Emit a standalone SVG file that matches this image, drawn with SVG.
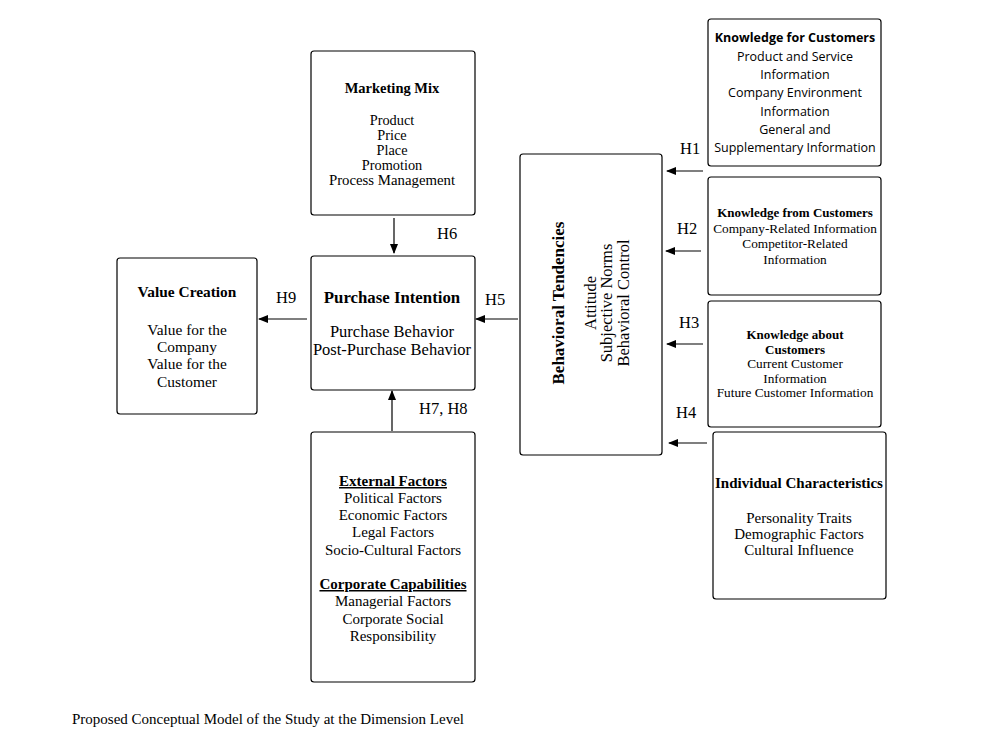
<svg xmlns="http://www.w3.org/2000/svg" width="981" height="751" viewBox="0 0 981 751">
<defs>
<marker id="ah" markerWidth="10" markerHeight="8" refX="9" refY="4" orient="auto" markerUnits="userSpaceOnUse">
<path d="M0,0 L10,4 L0,8 Z" fill="#000"/>
</marker>
<style>
.box{fill:#fff;stroke:#000;stroke-width:1.2}
.s{font-family:"Liberation Serif","Times New Roman",serif;fill:#000;text-anchor:middle}
.c{font-family:"Open Sans","Noto Sans",sans-serif;fill:#000;text-anchor:middle;font-size:12.5px}
.b{font-weight:bold}
.lbl{font-family:"Liberation Serif","Times New Roman",serif;font-size:16.5px;fill:#000}
.ln{stroke:#000;stroke-width:1.2;fill:none;marker-end:url(#ah)}
</style>
</defs>
<rect width="981" height="751" fill="#fff"/>

<g id="knowledge-for">
<rect class="box" x="708" y="19" width="173" height="147" rx="3"/>
<text class="c b" x="795" y="42">Knowledge for Customers</text>
<text class="c" x="795" y="61">Product and Service</text>
<text class="c" x="795" y="79">Information</text>
<text class="c" x="795" y="97">Company Environment</text>
<text class="c" x="795" y="116">Information</text>
<text class="c" x="795" y="134">General and</text>
<text class="c" x="795" y="152">Supplementary Information</text>
</g>

<g id="knowledge-from">
<rect class="box" x="708" y="177" width="173" height="118" rx="3"/>
<text class="s b" x="795" y="217" font-size="13">Knowledge from Customers</text>
<text class="s" x="795" y="233" font-size="13.3">Company-Related Information</text>
<text class="s" x="795" y="248" font-size="13.3">Competitor-Related</text>
<text class="s" x="795" y="264" font-size="13.3">Information</text>
</g>

<g id="knowledge-about">
<rect class="box" x="708" y="301" width="173" height="126" rx="3"/>
<text class="s b" x="795" y="339" font-size="13">Knowledge about</text>
<text class="s b" x="795" y="354" font-size="13">Customers</text>
<text class="s" x="795" y="368" font-size="13.3">Current Customer</text>
<text class="s" x="795" y="383" font-size="13.3">Information</text>
<text class="s" x="795" y="397" font-size="13.3">Future Customer Information</text>
</g>

<g id="individual">
<rect class="box" x="713" y="432" width="173" height="167" rx="3"/>
<text class="s b" x="799" y="488" font-size="15">Individual Characteristics</text>
<text class="s" x="799" y="523" font-size="15">Personality Traits</text>
<text class="s" x="799" y="539" font-size="15">Demographic Factors</text>
<text class="s" x="799" y="555" font-size="15">Cultural Influence</text>
</g>

<g id="behavioral">
<rect class="box" x="520" y="154" width="142" height="301" rx="3"/>
<g transform="translate(591,303) rotate(-90)">
<text class="s b" x="0" y="-27" font-size="17">Behavioral Tendencies</text>
<text class="s" x="0" y="5" font-size="16.5">Attitude</text>
<text class="s" x="0" y="21" font-size="16.5">Subjective Norms</text>
<text class="s" x="0" y="38" font-size="16.5">Behavioral Control</text>
</g>
</g>

<g id="marketing-mix">
<rect class="box" x="311" y="51" width="164" height="164" rx="3"/>
<text class="s b" x="392" y="93" font-size="14.5">Marketing Mix</text>
<text class="s" x="392" y="125" font-size="14.3">Product</text>
<text class="s" x="392" y="140" font-size="14.3">Price</text>
<text class="s" x="392" y="155" font-size="14.3">Place</text>
<text class="s" x="392" y="170" font-size="14.3">Promotion</text>
<text class="s" x="392" y="185" font-size="14.8">Process Management</text>
</g>

<g id="purchase-intention">
<rect class="box" x="311" y="256" width="164" height="134" rx="3"/>
<text class="s b" x="392" y="303" font-size="16.8">Purchase Intention</text>
<text class="s" x="392" y="337" font-size="16.5">Purchase Behavior</text>
<text class="s" x="392" y="355" font-size="16.5">Post-Purchase Behavior</text>
</g>

<g id="value-creation">
<rect class="box" x="117" y="258" width="140" height="156" rx="3"/>
<text class="s b" x="187" y="297" font-size="15.4">Value Creation</text>
<text class="s" x="187" y="335" font-size="15.4">Value for the</text>
<text class="s" x="187" y="352" font-size="15.4">Company</text>
<text class="s" x="187" y="369" font-size="15.4">Value for the</text>
<text class="s" x="187" y="387" font-size="15.4">Customer</text>
</g>

<g id="external-factors">
<rect class="box" x="311" y="432" width="164" height="250" rx="3"/>
<text class="s b" x="393" y="486" font-size="15" text-decoration="underline">External Factors</text>
<text class="s" x="393" y="503" font-size="15">Political Factors</text>
<text class="s" x="393" y="520" font-size="15">Economic Factors</text>
<text class="s" x="393" y="537" font-size="15">Legal Factors</text>
<text class="s" x="393" y="555" font-size="15">Socio-Cultural Factors</text>
<text class="s b" x="393" y="589" font-size="15" text-decoration="underline">Corporate Capabilities</text>
<text class="s" x="393" y="606" font-size="15">Managerial Factors</text>
<text class="s" x="393" y="624" font-size="15">Corporate Social</text>
<text class="s" x="393" y="641" font-size="15">Responsibility</text>
</g>

<g id="connectors">
<line class="ln" x1="703" y1="171" x2="667" y2="171"/>
<line class="ln" x1="701" y1="251" x2="666" y2="251"/>
<line class="ln" x1="703" y1="344" x2="667" y2="344"/>
<line class="ln" x1="707" y1="443" x2="669" y2="443"/>
<line class="ln" x1="518" y1="319" x2="476" y2="319"/>
<line class="ln" x1="394" y1="218" x2="394" y2="253"/>
<line class="ln" x1="392" y1="431" x2="392" y2="391"/>
<line class="ln" x1="307" y1="319" x2="259" y2="319"/>
<text class="lbl" x="680" y="154">H1</text>
<text class="lbl" x="677" y="234">H2</text>
<text class="lbl" x="679" y="328">H3</text>
<text class="lbl" x="676" y="418">H4</text>
<text class="lbl" x="485" y="305">H5</text>
<text class="lbl" x="437" y="239">H6</text>
<text class="lbl" x="419" y="414">H7, H8</text>
<text class="lbl" x="276" y="303">H9</text>
</g>

<text x="72" y="724" font-family="'Liberation Serif','Times New Roman',serif" font-size="15" fill="#000">Proposed Conceptual Model of the Study at the Dimension Level</text>
</svg>
